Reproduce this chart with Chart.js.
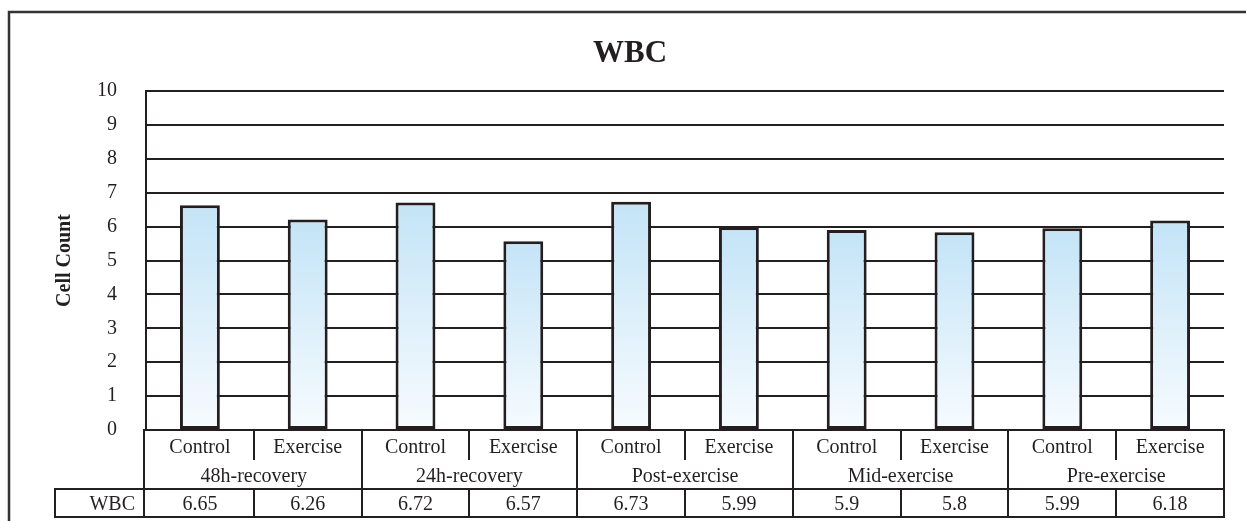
<!DOCTYPE html>
<html>
<head>
    <meta http-equiv="Content-Type" content="text/html; charset=utf-8"/>
    <title>WBC</title>
    <style>
        html, body { margin: 0; padding: 0; background: #fff; }
    </style>
</head>
<body>
    <canvas id="myChart" width="1246" height="521"></canvas>
    <script src="https://cdn.jsdelivr.net/npm/chart.js"></script>
    <script>
        // values
        const groups = ['48h-recovery', '24h-recovery', 'Post-exercise', 'Mid-exercise', 'Pre-exercise'];
        const arms = ['Control', 'Exercise'];
        const wbcBars = [6.63, 6.21, 6.71, 5.57, 6.73, 5.98, 5.9, 5.83, 5.95, 6.18];
        const wbcTable = ['6.65', '6.26', '6.72', '6.57', '6.73', '5.99', '5.9', '5.8', '5.99', '6.18'];
        const yTicks = [0, 1, 2, 3, 4, 5, 6, 7, 8, 9, 10];

        const ink = '#231f20';
        const serif = '"Liberation Serif", "Times New Roman", serif';
        const barTop = '#c3e4f7';
        const barBottom = '#f7fbfe';

        const labels = [];
        groups.forEach(g => arms.forEach(a => labels.push([a, g])));

        // frame, title and the data table under the plot
        const tablePlugin = {
            id: 'tablePlugin',
            beforeDraw(chart) {
                const ctx = chart.ctx;
                ctx.save();
                ctx.strokeStyle = '#333';
                ctx.lineWidth = 2.5;
                ctx.beginPath();
                ctx.moveTo(9, 521);
                ctx.lineTo(9, 12);
                ctx.lineTo(1246, 12);
                ctx.stroke();

                ctx.fillStyle = ink;
                ctx.font = 'bold 31px ' + serif;
                ctx.textAlign = 'center';
                ctx.textBaseline = 'alphabetic';
                ctx.fillText('WBC', 630, 62);
                ctx.restore();
            },
            afterDraw(chart) {
                const ctx = chart.ctx;
                const x = chart.scales.x;
                const area = chart.chartArea;
                const step = x.getPixelForValue(1) - x.getPixelForValue(0);
                const left = area.left - 2;
                const right = area.right;
                const top = area.bottom;
                const head = top + 59;
                const bottom = top + 87;
                const edge = i => (i === 0 ? left : x.getPixelForValue(i) - step / 2);

                ctx.save();
                ctx.strokeStyle = ink;
                ctx.lineWidth = 2;

                ctx.strokeRect(left, top, right - left, head - top);
                ctx.strokeRect(left, head, right - left, bottom - head);
                ctx.strokeRect(55, head, left - 55, bottom - head);

                ctx.beginPath();
                for (let i = 1; i < labels.length; i++) {
                    const px = Math.round(edge(i));
                    if (i % 2 === 0) {
                        ctx.moveTo(px, top);
                        ctx.lineTo(px, bottom);
                    } else {
                        ctx.moveTo(px, top);
                        ctx.lineTo(px, top + 30);
                        ctx.moveTo(px, head);
                        ctx.lineTo(px, bottom);
                    }
                }
                ctx.stroke();

                ctx.fillStyle = ink;
                ctx.font = '20px ' + serif;
                ctx.textAlign = 'center';
                ctx.textBaseline = 'alphabetic';
                labels.forEach((l, i) => {
                    const cx = x.getPixelForValue(i);
                    ctx.fillText(l[0], cx, top + 23);
                    ctx.fillText(wbcTable[i], cx, top + 80);
                });
                groups.forEach((g, gi) => {
                    const cx = (x.getPixelForValue(gi * 2) + x.getPixelForValue(gi * 2 + 1)) / 2;
                    ctx.fillText(g, cx, top + 52);
                });
                ctx.textAlign = 'right';
                ctx.fillText('WBC', left - 9, top + 80);
                ctx.restore();
            }
        };

        const config = {
            type: 'bar',
            data: {
                labels: labels,
                datasets: [{
                    label: 'WBC',
                    data: wbcBars,
                    backgroundColor: (c) => {
                        const chart = c.chart;
                        if (!chart.chartArea || c.type !== 'data') return barTop;
                        const y = chart.scales.y;
                        const g = chart.ctx.createLinearGradient(0, y.getPixelForValue(c.raw), 0, y.getPixelForValue(0));
                        g.addColorStop(0, barTop);
                        g.addColorStop(1, barBottom);
                        return g;
                    },
                    borderColor: ink,
                    borderWidth: 3,
                    borderSkipped: false,
                    categoryPercentage: 1,
                    barPercentage: 0.37
                }]
            },
            options: {
                responsive: false,
                animation: false,
                layout: { padding: { top: 91, right: 22, bottom: 91, left: 0 } },
                plugins: {
                    legend: { display: false },
                    tooltip: { enabled: false },
                    title: { display: false }
                },
                scales: {
                    x: { display: false },
                    y: {
                        min: 0,
                        max: 10,
                        afterBuildTicks: (scale) => { scale.ticks = yTicks.map(v => ({ value: v })); },
                        afterFit: (scale) => {
                            scale.width = 146;
                            scale.paddingTop = 0;
                            scale.paddingBottom = 0;
                        },
                        ticks: {
                            color: ink,
                            padding: 29,
                            font: { family: serif, size: 20 }
                        },
                        grid: { color: ink, lineWidth: 2, drawTicks: false },
                        border: { display: true, color: ink, width: 2 },
                        title: {
                            display: true,
                            text: 'Cell Count',
                            color: ink,
                            padding: { top: 53, bottom: 0 },
                            font: { family: serif, size: 20, weight: 'bold' }
                        }
                    }
                }
            },
            plugins: [tablePlugin]
        };

        const myChart = new Chart(document.getElementById('myChart'), config);
    </script>
</body>
</html>
